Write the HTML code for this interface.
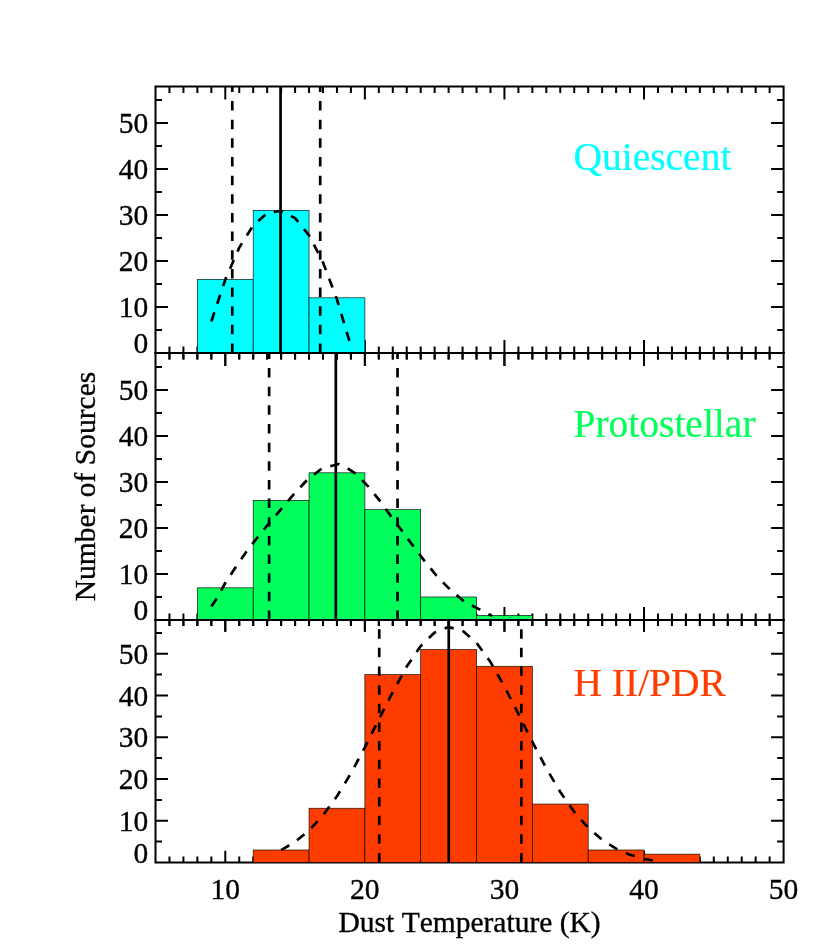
<!DOCTYPE html>
<html><head><meta charset="utf-8"><title>Dust Temperature Histograms</title>
<style>
html,body{margin:0;padding:0;background:#fff;}
body{width:830px;height:949px;overflow:hidden;}
svg{will-change:transform;}
svg text{font-family:"Liberation Serif",serif;stroke:#000;stroke-width:0.35px;font-kerning:none;font-variant-ligatures:none;}
svg text.pl{stroke:currentColor;stroke-width:0.2px;}
</style></head><body>
<svg width="830" height="949" viewBox="0 0 830 949" style="display:block">
<path d="M169.46 353.00v-6.50M169.46 86.50v6.50M183.42 353.00v-6.50M183.42 86.50v6.50M197.37 353.00v-6.50M197.37 86.50v6.50M211.33 353.00v-6.50M211.33 86.50v6.50M225.29 353.00v-13.00M225.29 86.50v13.00M239.25 353.00v-6.50M239.25 86.50v6.50M253.20 353.00v-6.50M253.20 86.50v6.50M267.16 353.00v-6.50M267.16 86.50v6.50M281.12 353.00v-6.50M281.12 86.50v6.50M295.08 353.00v-6.50M295.08 86.50v6.50M309.04 353.00v-6.50M309.04 86.50v6.50M322.99 353.00v-6.50M322.99 86.50v6.50M336.95 353.00v-6.50M336.95 86.50v6.50M350.91 353.00v-6.50M350.91 86.50v6.50M364.87 353.00v-13.00M364.87 86.50v13.00M378.82 353.00v-6.50M378.82 86.50v6.50M392.78 353.00v-6.50M392.78 86.50v6.50M406.74 353.00v-6.50M406.74 86.50v6.50M420.70 353.00v-6.50M420.70 86.50v6.50M434.66 353.00v-6.50M434.66 86.50v6.50M448.61 353.00v-6.50M448.61 86.50v6.50M462.57 353.00v-6.50M462.57 86.50v6.50M476.53 353.00v-6.50M476.53 86.50v6.50M490.49 353.00v-6.50M490.49 86.50v6.50M504.44 353.00v-13.00M504.44 86.50v13.00M518.40 353.00v-6.50M518.40 86.50v6.50M532.36 353.00v-6.50M532.36 86.50v6.50M546.32 353.00v-6.50M546.32 86.50v6.50M560.28 353.00v-6.50M560.28 86.50v6.50M574.23 353.00v-6.50M574.23 86.50v6.50M588.19 353.00v-6.50M588.19 86.50v6.50M602.15 353.00v-6.50M602.15 86.50v6.50M616.11 353.00v-6.50M616.11 86.50v6.50M630.06 353.00v-6.50M630.06 86.50v6.50M644.02 353.00v-13.00M644.02 86.50v13.00M657.98 353.00v-6.50M657.98 86.50v6.50M671.94 353.00v-6.50M671.94 86.50v6.50M685.90 353.00v-6.50M685.90 86.50v6.50M699.85 353.00v-6.50M699.85 86.50v6.50M713.81 353.00v-6.50M713.81 86.50v6.50M727.77 353.00v-6.50M727.77 86.50v6.50M741.73 353.00v-6.50M741.73 86.50v6.50M755.68 353.00v-6.50M755.68 86.50v6.50M769.64 353.00v-6.50M769.64 86.50v6.50M155.50 330.00h6.50M783.60 330.00h-6.50M155.50 307.00h12.50M783.60 307.00h-12.50M155.50 284.00h6.50M783.60 284.00h-6.50M155.50 261.00h12.50M783.60 261.00h-12.50M155.50 238.00h6.50M783.60 238.00h-6.50M155.50 215.00h12.50M783.60 215.00h-12.50M155.50 192.00h6.50M783.60 192.00h-6.50M155.50 169.00h12.50M783.60 169.00h-12.50M155.50 146.00h6.50M783.60 146.00h-6.50M155.50 123.00h12.50M783.60 123.00h-12.50M155.50 100.00h6.50M783.60 100.00h-6.50" stroke="#000" stroke-width="2.0" fill="none"/>
<rect x="155.50" y="86.50" width="628.10" height="266.50" fill="none" stroke="#000" stroke-width="2.0"/>
<rect x="197.37" y="279.40" width="55.83" height="73.60" fill="#00ffff" stroke="#000" stroke-opacity="0.9" stroke-width="0.7"/>
<rect x="253.20" y="210.40" width="55.83" height="142.60" fill="#00ffff" stroke="#000" stroke-opacity="0.9" stroke-width="0.7"/>
<rect x="309.04" y="297.80" width="55.83" height="55.20" fill="#00ffff" stroke="#000" stroke-opacity="0.9" stroke-width="0.7"/>
<path d="M232.27 353.00V86.50" stroke="#000" stroke-width="2.7" stroke-dasharray="9.5 9.15" fill="none"/>
<path d="M320.20 353.00V86.50" stroke="#000" stroke-width="2.7" stroke-dasharray="9.5 9.15" fill="none"/>
<path d="M280.56 353.00V86.50" stroke="#000" stroke-width="2.7" fill="none"/>
<polyline points="211.33,321.45 225.29,279.62 239.25,247.62 253.20,225.47 267.16,213.17 281.12,210.71 295.08,218.09 309.04,235.32 322.99,262.39 336.95,299.30 350.91,346.06" stroke="#000" stroke-width="2.7" stroke-dasharray="9.5 9.15" fill="none" stroke-linejoin="round"/>
<text x="573.43" y="169.50" font-size="39.5" class="pl" style="fill:#00ffff;color:#00ffff">Quiescent</text>
<path d="M169.46 620.00v-6.50M169.46 353.00v6.50M183.42 620.00v-6.50M183.42 353.00v6.50M197.37 620.00v-6.50M197.37 353.00v6.50M211.33 620.00v-6.50M211.33 353.00v6.50M225.29 620.00v-13.00M225.29 353.00v13.00M239.25 620.00v-6.50M239.25 353.00v6.50M253.20 620.00v-6.50M253.20 353.00v6.50M267.16 620.00v-6.50M267.16 353.00v6.50M281.12 620.00v-6.50M281.12 353.00v6.50M295.08 620.00v-6.50M295.08 353.00v6.50M309.04 620.00v-6.50M309.04 353.00v6.50M322.99 620.00v-6.50M322.99 353.00v6.50M336.95 620.00v-6.50M336.95 353.00v6.50M350.91 620.00v-6.50M350.91 353.00v6.50M364.87 620.00v-13.00M364.87 353.00v13.00M378.82 620.00v-6.50M378.82 353.00v6.50M392.78 620.00v-6.50M392.78 353.00v6.50M406.74 620.00v-6.50M406.74 353.00v6.50M420.70 620.00v-6.50M420.70 353.00v6.50M434.66 620.00v-6.50M434.66 353.00v6.50M448.61 620.00v-6.50M448.61 353.00v6.50M462.57 620.00v-6.50M462.57 353.00v6.50M476.53 620.00v-6.50M476.53 353.00v6.50M490.49 620.00v-6.50M490.49 353.00v6.50M504.44 620.00v-13.00M504.44 353.00v13.00M518.40 620.00v-6.50M518.40 353.00v6.50M532.36 620.00v-6.50M532.36 353.00v6.50M546.32 620.00v-6.50M546.32 353.00v6.50M560.28 620.00v-6.50M560.28 353.00v6.50M574.23 620.00v-6.50M574.23 353.00v6.50M588.19 620.00v-6.50M588.19 353.00v6.50M602.15 620.00v-6.50M602.15 353.00v6.50M616.11 620.00v-6.50M616.11 353.00v6.50M630.06 620.00v-6.50M630.06 353.00v6.50M644.02 620.00v-13.00M644.02 353.00v13.00M657.98 620.00v-6.50M657.98 353.00v6.50M671.94 620.00v-6.50M671.94 353.00v6.50M685.90 620.00v-6.50M685.90 353.00v6.50M699.85 620.00v-6.50M699.85 353.00v6.50M713.81 620.00v-6.50M713.81 353.00v6.50M727.77 620.00v-6.50M727.77 353.00v6.50M741.73 620.00v-6.50M741.73 353.00v6.50M755.68 620.00v-6.50M755.68 353.00v6.50M769.64 620.00v-6.50M769.64 353.00v6.50M155.50 597.00h6.50M783.60 597.00h-6.50M155.50 574.00h12.50M783.60 574.00h-12.50M155.50 551.00h6.50M783.60 551.00h-6.50M155.50 528.00h12.50M783.60 528.00h-12.50M155.50 505.00h6.50M783.60 505.00h-6.50M155.50 482.00h12.50M783.60 482.00h-12.50M155.50 459.00h6.50M783.60 459.00h-6.50M155.50 436.00h12.50M783.60 436.00h-12.50M155.50 413.00h6.50M783.60 413.00h-6.50M155.50 390.00h12.50M783.60 390.00h-12.50M155.50 367.00h6.50M783.60 367.00h-6.50" stroke="#000" stroke-width="2.0" fill="none"/>
<rect x="155.50" y="353.00" width="628.10" height="267.00" fill="none" stroke="#000" stroke-width="2.0"/>
<rect x="197.37" y="587.80" width="55.83" height="32.20" fill="#00ff5a" stroke="#000" stroke-opacity="0.9" stroke-width="0.7"/>
<rect x="253.20" y="500.40" width="55.83" height="119.60" fill="#00ff5a" stroke="#000" stroke-opacity="0.9" stroke-width="0.7"/>
<rect x="309.04" y="472.80" width="55.83" height="147.20" fill="#00ff5a" stroke="#000" stroke-opacity="0.9" stroke-width="0.7"/>
<rect x="364.87" y="509.60" width="55.83" height="110.40" fill="#00ff5a" stroke="#000" stroke-opacity="0.9" stroke-width="0.7"/>
<rect x="420.70" y="597.00" width="55.83" height="23.00" fill="#00ff5a" stroke="#000" stroke-opacity="0.9" stroke-width="0.7"/>
<rect x="476.53" y="615.40" width="55.83" height="4.60" fill="#00ff5a" stroke="#000" stroke-opacity="0.9" stroke-width="0.7"/>
<path d="M269.12 620.00V353.00" stroke="#000" stroke-width="2.7" stroke-dasharray="9.5 9.15" fill="none"/>
<path d="M397.53 620.00V353.00" stroke="#000" stroke-width="2.7" stroke-dasharray="9.5 9.15" fill="none"/>
<path d="M335.83 620.00V353.00" stroke="#000" stroke-width="2.7" fill="none"/>
<polyline points="211.40,606.52 217.05,598.01 225.85,581.91 236.04,566.64 246.50,551.46 258.09,536.74 269.67,522.48 281.54,508.68 294.10,493.96 306.94,480.16 321.60,468.66 338.35,464.06 347.56,468.20 355.79,473.72 368.77,487.06 380.64,501.78 391.81,517.42 402.97,532.14 413.86,546.86 425.02,561.58 437.03,576.30 449.87,589.32 464.25,601.69 480.02,609.60 492.16,616.09" stroke="#000" stroke-width="2.7" stroke-dasharray="9.5 9.15" fill="none" stroke-linejoin="round"/>
<text x="573.43" y="436.50" font-size="39.5" class="pl" style="fill:#00ff5a;color:#00ff5a">Protostellar</text>
<path d="M169.46 862.50v-5.90M169.46 620.00v5.90M183.42 862.50v-5.90M183.42 620.00v5.90M197.37 862.50v-5.90M197.37 620.00v5.90M211.33 862.50v-5.90M211.33 620.00v5.90M225.29 862.50v-11.80M225.29 620.00v11.80M239.25 862.50v-5.90M239.25 620.00v5.90M253.20 862.50v-5.90M253.20 620.00v5.90M267.16 862.50v-5.90M267.16 620.00v5.90M281.12 862.50v-5.90M281.12 620.00v5.90M295.08 862.50v-5.90M295.08 620.00v5.90M309.04 862.50v-5.90M309.04 620.00v5.90M322.99 862.50v-5.90M322.99 620.00v5.90M336.95 862.50v-5.90M336.95 620.00v5.90M350.91 862.50v-5.90M350.91 620.00v5.90M364.87 862.50v-11.80M364.87 620.00v11.80M378.82 862.50v-5.90M378.82 620.00v5.90M392.78 862.50v-5.90M392.78 620.00v5.90M406.74 862.50v-5.90M406.74 620.00v5.90M420.70 862.50v-5.90M420.70 620.00v5.90M434.66 862.50v-5.90M434.66 620.00v5.90M448.61 862.50v-5.90M448.61 620.00v5.90M462.57 862.50v-5.90M462.57 620.00v5.90M476.53 862.50v-5.90M476.53 620.00v5.90M490.49 862.50v-5.90M490.49 620.00v5.90M504.44 862.50v-11.80M504.44 620.00v11.80M518.40 862.50v-5.90M518.40 620.00v5.90M532.36 862.50v-5.90M532.36 620.00v5.90M546.32 862.50v-5.90M546.32 620.00v5.90M560.28 862.50v-5.90M560.28 620.00v5.90M574.23 862.50v-5.90M574.23 620.00v5.90M588.19 862.50v-5.90M588.19 620.00v5.90M602.15 862.50v-5.90M602.15 620.00v5.90M616.11 862.50v-5.90M616.11 620.00v5.90M630.06 862.50v-5.90M630.06 620.00v5.90M644.02 862.50v-11.80M644.02 620.00v11.80M657.98 862.50v-5.90M657.98 620.00v5.90M671.94 862.50v-5.90M671.94 620.00v5.90M685.90 862.50v-5.90M685.90 620.00v5.90M699.85 862.50v-5.90M699.85 620.00v5.90M713.81 862.50v-5.90M713.81 620.00v5.90M727.77 862.50v-5.90M727.77 620.00v5.90M741.73 862.50v-5.90M741.73 620.00v5.90M755.68 862.50v-5.90M755.68 620.00v5.90M769.64 862.50v-5.90M769.64 620.00v5.90M155.50 841.62h6.50M783.60 841.62h-6.50M155.50 820.75h12.50M783.60 820.75h-12.50M155.50 799.88h6.50M783.60 799.88h-6.50M155.50 779.00h12.50M783.60 779.00h-12.50M155.50 758.12h6.50M783.60 758.12h-6.50M155.50 737.25h12.50M783.60 737.25h-12.50M155.50 716.38h6.50M783.60 716.38h-6.50M155.50 695.50h12.50M783.60 695.50h-12.50M155.50 674.62h6.50M783.60 674.62h-6.50M155.50 653.75h12.50M783.60 653.75h-12.50M155.50 632.88h6.50M783.60 632.88h-6.50" stroke="#000" stroke-width="2.0" fill="none"/>
<rect x="155.50" y="620.00" width="628.10" height="242.50" fill="none" stroke="#000" stroke-width="2.0"/>
<rect x="253.20" y="849.98" width="55.83" height="12.52" fill="#ff3c00" stroke="#000" stroke-opacity="0.9" stroke-width="0.7"/>
<rect x="309.04" y="808.23" width="55.83" height="54.27" fill="#ff3c00" stroke="#000" stroke-opacity="0.9" stroke-width="0.7"/>
<rect x="364.87" y="674.62" width="55.83" height="187.88" fill="#ff3c00" stroke="#000" stroke-opacity="0.9" stroke-width="0.7"/>
<rect x="420.70" y="649.58" width="55.83" height="212.92" fill="#ff3c00" stroke="#000" stroke-opacity="0.9" stroke-width="0.7"/>
<rect x="476.53" y="666.27" width="55.83" height="196.22" fill="#ff3c00" stroke="#000" stroke-opacity="0.9" stroke-width="0.7"/>
<rect x="532.36" y="804.05" width="55.83" height="58.45" fill="#ff3c00" stroke="#000" stroke-opacity="0.9" stroke-width="0.7"/>
<rect x="588.19" y="849.98" width="55.83" height="12.52" fill="#ff3c00" stroke="#000" stroke-opacity="0.9" stroke-width="0.7"/>
<rect x="644.02" y="854.15" width="55.83" height="8.35" fill="#ff3c00" stroke="#000" stroke-opacity="0.9" stroke-width="0.7"/>
<path d="M379.24 862.50V620.00" stroke="#000" stroke-width="2.7" stroke-dasharray="9.5 9.15" fill="none"/>
<path d="M521.33 862.50V620.00" stroke="#000" stroke-width="2.7" stroke-dasharray="9.5 9.15" fill="none"/>
<path d="M448.75 862.50V620.00" stroke="#000" stroke-width="2.7" fill="none"/>
<polyline points="281.12,850.11 295.08,841.89 309.04,830.48 322.99,815.36 336.95,796.26 350.91,773.34 364.87,747.33 378.82,719.54 392.78,691.88 406.74,666.60 420.70,646.09 434.66,632.42 448.61,627.08 462.57,630.65 476.53,642.75 490.49,662.05 504.44,686.55 518.40,713.93 532.36,741.86 546.32,768.35 560.28,791.96 574.23,811.86 588.19,827.77 602.15,839.89 616.11,848.69 630.06,854.80 644.02,858.86 657.98,861.44" stroke="#000" stroke-width="2.7" stroke-dasharray="9.53 9.19" fill="none" stroke-linejoin="round"/>
<text x="573.43" y="696.00" font-size="39.5" class="pl" style="fill:#ff3c00;color:#ff3c00">H II/PDR</text>
<path d="M169.46 353.00v6.50M183.42 353.00v6.50M197.37 353.00v6.50M211.33 353.00v6.50M225.29 353.00v13.00M239.25 353.00v6.50M253.20 353.00v6.50M267.16 353.00v6.50M281.12 353.00v6.50M295.08 353.00v6.50M309.04 353.00v6.50M322.99 353.00v6.50M336.95 353.00v6.50M350.91 353.00v6.50M364.87 353.00v13.00M378.82 353.00v6.50M392.78 353.00v6.50M406.74 353.00v6.50M420.70 353.00v6.50M434.66 353.00v6.50M448.61 353.00v6.50M462.57 353.00v6.50M476.53 353.00v6.50M490.49 353.00v6.50M504.44 353.00v13.00M518.40 353.00v6.50M532.36 353.00v6.50M546.32 353.00v6.50M560.28 353.00v6.50M574.23 353.00v6.50M588.19 353.00v6.50M602.15 353.00v6.50M616.11 353.00v6.50M630.06 353.00v6.50M644.02 353.00v13.00M657.98 353.00v6.50M671.94 353.00v6.50M685.90 353.00v6.50M699.85 353.00v6.50M713.81 353.00v6.50M727.77 353.00v6.50M741.73 353.00v6.50M755.68 353.00v6.50M769.64 353.00v6.50M154.50 353.00H784.60" stroke="#000" stroke-width="2.0" fill="none"/>
<path d="M169.46 620.00v5.90M183.42 620.00v5.90M197.37 620.00v5.90M211.33 620.00v5.90M225.29 620.00v11.80M239.25 620.00v5.90M253.20 620.00v5.90M267.16 620.00v5.90M281.12 620.00v5.90M295.08 620.00v5.90M309.04 620.00v5.90M322.99 620.00v5.90M336.95 620.00v5.90M350.91 620.00v5.90M364.87 620.00v11.80M378.82 620.00v5.90M392.78 620.00v5.90M406.74 620.00v5.90M420.70 620.00v5.90M434.66 620.00v5.90M448.61 620.00v5.90M462.57 620.00v5.90M476.53 620.00v5.90M490.49 620.00v5.90M504.44 620.00v11.80M518.40 620.00v5.90M532.36 620.00v5.90M546.32 620.00v5.90M560.28 620.00v5.90M574.23 620.00v5.90M588.19 620.00v5.90M602.15 620.00v5.90M616.11 620.00v5.90M630.06 620.00v5.90M644.02 620.00v11.80M657.98 620.00v5.90M671.94 620.00v5.90M685.90 620.00v5.90M699.85 620.00v5.90M713.81 620.00v5.90M727.77 620.00v5.90M741.73 620.00v5.90M755.68 620.00v5.90M769.64 620.00v5.90M154.50 620.00H784.60" stroke="#000" stroke-width="2.0" fill="none"/>
<text x="148.2" y="353.20" font-size="29.5" text-anchor="end">0</text>
<text x="148.2" y="317.00" font-size="29.5" text-anchor="end">10</text>
<text x="148.2" y="271.00" font-size="29.5" text-anchor="end">20</text>
<text x="148.2" y="225.00" font-size="29.5" text-anchor="end">30</text>
<text x="148.2" y="179.00" font-size="29.5" text-anchor="end">40</text>
<text x="148.2" y="133.00" font-size="29.5" text-anchor="end">50</text>
<text x="148.2" y="620.20" font-size="29.5" text-anchor="end">0</text>
<text x="148.2" y="584.00" font-size="29.5" text-anchor="end">10</text>
<text x="148.2" y="538.00" font-size="29.5" text-anchor="end">20</text>
<text x="148.2" y="492.00" font-size="29.5" text-anchor="end">30</text>
<text x="148.2" y="446.00" font-size="29.5" text-anchor="end">40</text>
<text x="148.2" y="400.00" font-size="29.5" text-anchor="end">50</text>
<text x="148.2" y="862.70" font-size="29.5" text-anchor="end">0</text>
<text x="148.2" y="830.75" font-size="29.5" text-anchor="end">10</text>
<text x="148.2" y="789.00" font-size="29.5" text-anchor="end">20</text>
<text x="148.2" y="747.25" font-size="29.5" text-anchor="end">30</text>
<text x="148.2" y="705.50" font-size="29.5" text-anchor="end">40</text>
<text x="148.2" y="663.75" font-size="29.5" text-anchor="end">50</text>
<text x="225.29" y="899.2" font-size="29.5" text-anchor="middle">10</text>
<text x="364.87" y="899.2" font-size="29.5" text-anchor="middle">20</text>
<text x="504.44" y="899.2" font-size="29.5" text-anchor="middle">30</text>
<text x="644.02" y="899.2" font-size="29.5" text-anchor="middle">40</text>
<text x="783.60" y="899.2" font-size="29.5" text-anchor="middle">50</text>
<text x="469.6" y="931.5" font-size="29.5" text-anchor="middle">Dust Temperature (K)</text>
<text transform="translate(95.3 486.5) rotate(-90)" font-size="29.5" text-anchor="middle">Number of Sources</text>
</svg>
</body></html>
